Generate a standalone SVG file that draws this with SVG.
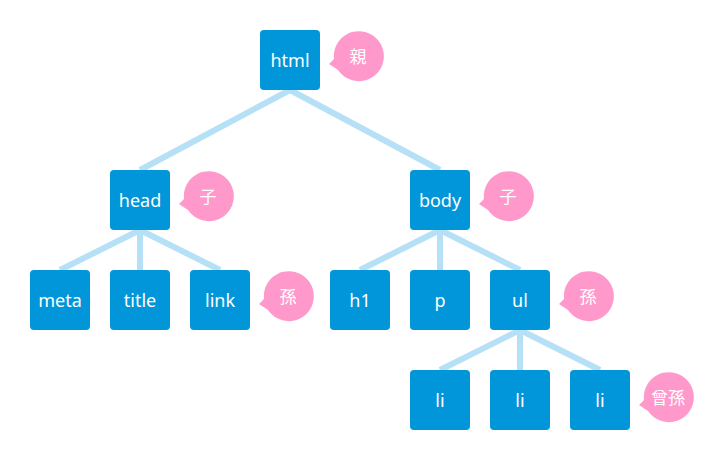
<svg xmlns="http://www.w3.org/2000/svg" width="724" height="460" viewBox="0 0 724 460">
<defs>
<style>
.n rect{fill:#0096d9}
.n text{fill:#fff;font-family:"Noto Sans","Noto Sans CJK JP",sans-serif;font-size:18px;text-anchor:middle;dominant-baseline:central}
.b path{fill:#ff99cc}
.b text{fill:#fff;font-family:"Noto Sans CJK JP",sans-serif;font-size:17px;text-anchor:middle;dominant-baseline:central}
.c line{stroke:#b5e0f5;stroke-width:6}
</style>
</defs>
<rect width="724" height="460" fill="#fff"/>
<g id="connectors" class="c">
<line x1="290" y1="90" x2="140" y2="170"/>
<line x1="290" y1="90" x2="440" y2="170"/>
<line x1="140" y1="230" x2="60" y2="270"/>
<line x1="140" y1="230" x2="140" y2="270"/>
<line x1="140" y1="230" x2="220" y2="270"/>
<line x1="440" y1="230" x2="360" y2="270"/>
<line x1="440" y1="230" x2="440" y2="270"/>
<line x1="440" y1="230" x2="520" y2="270"/>
<line x1="520" y1="330" x2="440" y2="370"/>
<line x1="520" y1="330" x2="520" y2="370"/>
<line x1="520" y1="330" x2="600" y2="370"/>
</g>
<g id="html" class="n"><rect x="260" y="30" width="60" height="60" rx="4"/><text x="290" y="60">html</text></g>
<g id="head" class="n"><rect x="110" y="170" width="60" height="60" rx="4"/><text x="140" y="200">head</text></g>
<g id="body" class="n"><rect x="410" y="170" width="60" height="60" rx="4"/><text x="440" y="200">body</text></g>
<g id="meta" class="n"><rect x="30" y="270" width="60" height="60" rx="4"/><text x="60" y="300">meta</text></g>
<g id="title" class="n"><rect x="110" y="270" width="60" height="60" rx="4"/><text x="140" y="300">title</text></g>
<g id="link" class="n"><rect x="190" y="270" width="60" height="60" rx="4"/><text x="220" y="300">link</text></g>
<g id="h1" class="n"><rect x="330" y="270" width="60" height="60" rx="4"/><text x="360" y="300">h1</text></g>
<g id="p" class="n"><rect x="410" y="270" width="60" height="60" rx="4"/><text x="440" y="300">p</text></g>
<g id="ul" class="n"><rect x="490" y="270" width="60" height="60" rx="4"/><text x="520" y="300">ul</text></g>
<g id="li1" class="n"><rect x="410" y="370" width="60" height="60" rx="4"/><text x="440" y="400">li</text></g>
<g id="li2" class="n"><rect x="490" y="370" width="60" height="60" rx="4"/><text x="520" y="400">li</text></g>
<g id="li3" class="n"><rect x="570" y="370" width="60" height="60" rx="4"/><text x="600" y="400">li</text></g>
<g id="bubble-html" class="b" transform="translate(358,55)"><path d="M-24,4 A25,25 0 1 1 -20,15 L-29,9 Z"/><text x="0" y="0">親</text></g>
<g id="bubble-head" class="b" transform="translate(208,195)"><path d="M-24,4 A25,25 0 1 1 -20,15 L-29,9 Z"/><text x="0" y="0">子</text></g>
<g id="bubble-body" class="b" transform="translate(508,195)"><path d="M-24,4 A25,25 0 1 1 -20,15 L-29,9 Z"/><text x="0" y="0">子</text></g>
<g id="bubble-link" class="b" transform="translate(288,295)"><path d="M-24,4 A25,25 0 1 1 -20,15 L-29,9 Z"/><text x="0" y="0">孫</text></g>
<g id="bubble-ul" class="b" transform="translate(588,295)"><path d="M-24,4 A25,25 0 1 1 -20,15 L-29,9 Z"/><text x="0" y="0">孫</text></g>
<g id="bubble-li" class="b" transform="translate(668,396)"><path d="M-24,4 A25,25 0 1 1 -20,15 L-29,9 Z"/><text x="0" y="0">曾孫</text></g>
</svg>
